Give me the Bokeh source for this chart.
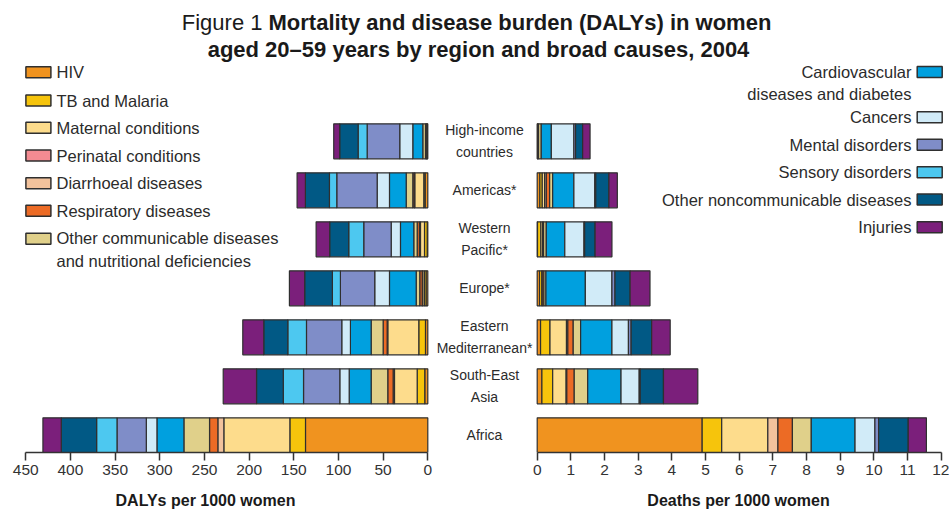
import numpy as np
from bokeh.plotting import figure
from bokeh.models import Range1d, FixedTicker, ColumnDataSource
from bokeh.layouts import column, row
from bokeh.embed import file_html
from bokeh.resources import INLINE
from bokeh.core.properties import value

FONT = "Liberation Sans"

# ---------------- data ----------------
regions = ["High-income\ncountries", "Americas*", "Western\nPacific*", "Europe*",
           "Eastern\nMediterranean*", "South-East\nAsia", "Africa"]

causes = ["HIV", "TB and Malaria", "Maternal conditions", "Perinatal conditions",
          "Diarrhoeal diseases", "Respiratory diseases",
          "Other communicable diseases\nand nutritional deficiencies",
          "Cardiovascular\ndiseases and diabetes", "Cancers", "Mental disorders",
          "Sensory disorders", "Other noncommunicable diseases", "Injuries"]

colors = ["#F0931F", "#F6C40C", "#FDDC8C", "#F38B92", "#F2C29C", "#EC6B25", "#E0D08A",
          "#00A0DF", "#D1EBF8", "#7F8DC8", "#4DC8F0", "#015985", "#7B1F7B"]

axis_titles = ["DALYs per 1000 women", "Deaths per 1000 women"]

# DALYs per 1000 women (regions in the order above)
dalys_hiv = [0.5, 3.0, 0.7, 2.0, 2.6, 3.4, 136.9]
dalys_tb = [0.5, 1.5, 3.0, 1.8, 7.5, 8.5, 17.5]
dalys_maternal = [0.6, 10.1, 4.5, 2.0, 34.7, 25.4, 73.9]
dalys_perinatal = [0, 0, 0, 0, 0, 0, 0]
dalys_diarrhoeal = [0.2, 0.6, 1.2, 0.5, 0.7, 1.5, 6.7]
dalys_respiratory = [0.8, 1.6, 2.5, 2.7, 4.5, 6.0, 9.3]
dalys_other_comm = [3.0, 7.4, 3.8, 4.0, 13.4, 18.6, 28.7]
dalys_cvd = [11.2, 18.7, 14.9, 29.9, 23.2, 24.6, 30.2]
dalys_cancers = [14.6, 13.8, 10.4, 16.5, 9.7, 10.5, 11.9]
dalys_mental = [36.5, 45.2, 30.7, 38.4, 39.5, 40.6, 32.8]
dalys_sensory = [10.1, 8.2, 16.8, 9.0, 20.9, 22.7, 22.8]
dalys_other_ncd = [20.6, 26.9, 21.3, 31.0, 26.9, 29.9, 39.6]
dalys_injuries = [6.7, 9.3, 15.2, 17.1, 23.5, 37.3, 20.5]

# Deaths per 1000 women
deaths_hiv = [0.01, 0.08, 0.01, 0.07, 0.10, 0.14, 4.90]
deaths_tb = [0.01, 0.07, 0.10, 0.07, 0.28, 0.32, 0.58]
deaths_maternal = [0.0, 0.07, 0.05, 0.01, 0.49, 0.40, 1.37]
deaths_perinatal = [0, 0, 0, 0, 0, 0, 0]
deaths_diarrhoeal = [0.0, 0.05, 0.0, 0.0, 0.04, 0.02, 0.30]
deaths_respiratory = [0.02, 0.10, 0.03, 0.05, 0.16, 0.22, 0.43]
deaths_other_comm = [0.08, 0.09, 0.08, 0.06, 0.22, 0.40, 0.56]
deaths_cvd = [0.30, 0.63, 0.55, 1.17, 0.93, 0.99, 1.30]
deaths_cancers = [0.67, 0.62, 0.57, 0.79, 0.49, 0.54, 0.59]
deaths_mental = [0.05, 0.03, 0.02, 0.09, 0.08, 0.03, 0.11]
deaths_sensory = [0, 0, 0, 0, 0, 0, 0]
deaths_other_ncd = [0.21, 0.39, 0.31, 0.45, 0.61, 0.69, 0.88]
deaths_injuries = [0.22, 0.25, 0.50, 0.59, 0.55, 1.02, 0.54]

dalys_ticks = [0, 50, 100, 150, 200, 250, 300, 350, 400, 450]
deaths_ticks = [0, 1, 2, 3, 4, 5, 6, 7, 8, 9, 10, 11, 12]

dalys_series = [dalys_hiv, dalys_tb, dalys_maternal, dalys_perinatal, dalys_diarrhoeal,
                dalys_respiratory, dalys_other_comm, dalys_cvd, dalys_cancers,
                dalys_mental, dalys_sensory, dalys_other_ncd, dalys_injuries]
deaths_series = [deaths_hiv, deaths_tb, deaths_maternal, deaths_perinatal, deaths_diarrhoeal,
                 deaths_respiratory, deaths_other_comm, deaths_cvd, deaths_cancers,
                 deaths_mental, deaths_sensory, deaths_other_ncd, deaths_injuries]

# ---------------- layout constants ----------------
TOTAL_W = 949
TOP_H = 64
BOT_H = 32
ROW_H = 512 - TOP_H - BOT_H
LEFT_W = 436
RIGHT_W = TOTAL_W - LEFT_W
BAR_H = 0.714
ROW_Y = [len(regions) - 1 - i for i in range(len(regions))]


def yy(py):  # page px -> row units (row 0 = Africa)
    return (434.8 - py) / 49.0


YR = Range1d(yy(452), yy(TOP_H))

TXT = "#2b2b2b"
LINE = "#2f2f2f"


def add_bars(p, series):
    cum = np.zeros(len(regions))
    for vals, col in zip(series, colors):
        vals = np.array(vals, dtype=float)
        keep = vals > 0
        src = ColumnDataSource(dict(
            y=np.array(ROW_Y)[keep],
            left=cum[keep],
            right=(cum + vals)[keep]))
        p.hbar(y="y", left="left", right="right", height=BAR_H, source=src,
               fill_color=col, line_color=LINE, line_width=1.2)
        cum = cum + vals


def style_axis(p, ticks, bounds):
    ax = p.xaxis[0]
    ax.ticker = FixedTicker(ticks=ticks)
    ax.bounds = bounds
    ax.major_tick_out = 8
    ax.major_tick_in = 0
    ax.minor_tick_line_color = None
    ax.axis_line_color = "#333333"
    ax.axis_line_width = 1.5
    ax.major_tick_line_color = "#333333"
    ax.major_tick_line_width = 1.5
    ax.major_label_text_font = FONT
    ax.major_label_text_font_size = "15.5px"
    ax.major_label_text_color = "#333333"
    ax.major_label_standoff = 4


def base_fig(w, xr):
    p = figure(width=w, height=ROW_H, x_range=xr, y_range=YR,
               output_backend="svg", toolbar_location=None, y_axis_location=None,
               min_border_left=0, min_border_right=0, min_border_top=0,
               min_border_bottom=TOP_H + ROW_H - 452)
    p.grid.visible = False
    p.outline_line_color = None
    return p


def plain_fig(h):
    p = figure(width=TOTAL_W, height=h, x_range=Range1d(0, TOTAL_W),
               y_range=Range1d(h, 0), output_backend="svg", toolbar_location=None,
               x_axis_location=None, y_axis_location=None,
               min_border_left=0, min_border_right=0, min_border_top=0, min_border_bottom=0)
    p.grid.visible = False
    p.outline_line_color = None
    return p


# ---------------- left figure: DALYs ----------------
def dx(px):  # page px -> DALY value
    return (427.3 - px) / 0.8934


left = base_fig(LEFT_W, Range1d(dx(0), dx(LEFT_W)))
add_bars(left, dalys_series)
style_axis(left, dalys_ticks, (0, 450))

# left legend (first 7 causes)
leg_l_y = [71.7, 100.0, 127.3, 155.0, 182.7, 210.3, 238.3]
left.rect(x=[dx(37.9)] * 7, y=[yy(v) for v in leg_l_y], width=25, height=11,
          width_units="screen", height_units="screen",
          fill_color=colors[:7], line_color=LINE, line_width=1.5)
left.text(x=[dx(56)] * 7, y=[yy(v) for v in leg_l_y[:6]] + [yy(248.7)], text=causes[:7],
          text_font=value(FONT), text_font_size="16.5px", text_color=TXT,
          text_align="left", text_baseline="middle", text_line_height=1.27)


# ---------------- right figure: deaths ----------------
def rx(px):
    return (px - 536.7) / 33.67


right = base_fig(RIGHT_W, Range1d(rx(LEFT_W), rx(TOTAL_W)))
add_bars(right, deaths_series)
style_axis(right, deaths_ticks, (0, 12))

right.text(x=[rx(484)] * len(regions), y=ROW_Y, text=regions,
           text_font=value(FONT), text_font_size="14px", text_color=TXT,
           text_align="center", text_baseline="middle", text_line_height=1.4)

leg_r_y = [71.5, 116.7, 144.3, 171.7, 199.0, 226.7]
leg_r_ty = [82.5, 116.7, 144.3, 171.7, 199.0, 226.7]
right.rect(x=[rx(929.2)] * 6, y=[yy(v) for v in leg_r_y], width=25, height=11,
           width_units="screen", height_units="screen",
           fill_color=colors[7:], line_color=LINE, line_width=1.5)
right.text(x=[rx(911)] * 6, y=[yy(v) for v in leg_r_ty], text=causes[7:],
           text_font=value(FONT), text_font_size="16.5px", text_color=TXT,
           text_align="right", text_baseline="middle", text_line_height=1.27)

# ---------------- title figure ----------------
top = plain_fig(TOP_H)
top.text(x=[262], y=[22], text=["Figure 1"], text_font=value(FONT), text_font_size="22px",
         text_color="#1a1a1a", text_align="right", text_baseline="middle")
top.text(x=[268], y=[22], text=["Mortality and disease burden (DALYs) in women"],
         text_font=value(FONT), text_font_size="22px", text_font_style="bold",
         text_color="#1a1a1a", text_align="left", text_baseline="middle")
top.text(x=[478], y=[49], text=["aged 20\u201359 years by region and broad causes, 2004"],
         text_font=value(FONT), text_font_size="22px", text_font_style="bold",
         text_color="#1a1a1a", text_align="center", text_baseline="middle")

# ---------------- axis-title strip ----------------
bottom = plain_fig(BOT_H)
bottom.text(x=[205, 738], y=[500 - (TOP_H + ROW_H)] * 2, text=axis_titles,
            text_font=value(FONT), text_font_size="16px", text_font_style="bold",
            text_color="#1a1a1a", text_align="center", text_baseline="middle")

layout = column(top, row(left, right, spacing=0), bottom, spacing=0)
open("out.html", "w").write(file_html(layout, INLINE))
